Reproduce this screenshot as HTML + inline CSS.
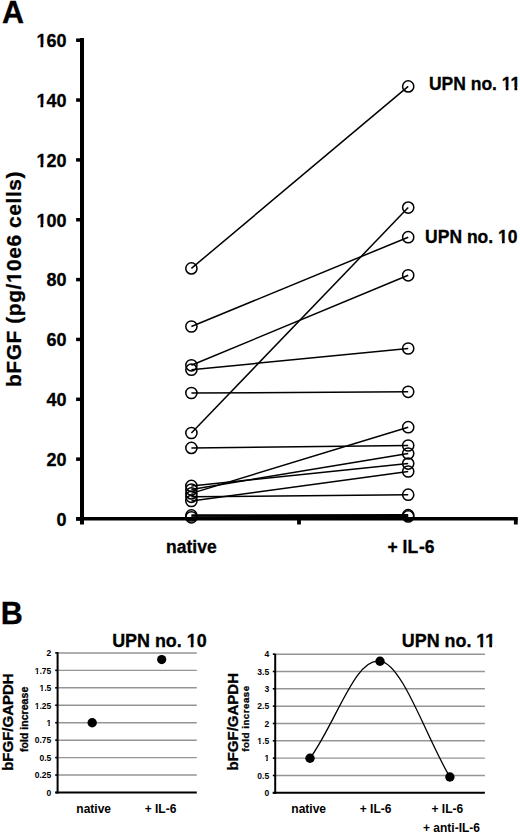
<!DOCTYPE html>
<html><head><meta charset="utf-8"><title>bFGF IL-6 figure</title>
<style>
html,body{margin:0;padding:0;background:#fff;}
body{width:520px;height:833px;overflow:hidden;font-family:"Liberation Sans",sans-serif;}
svg{display:block;}
</style></head>
<body>
<svg width="520" height="833" viewBox="0 0 520 833">
<rect width="520" height="833" fill="#fff"/>
<text x="2.0" y="22.6" font-family="Liberation Sans, sans-serif" font-weight="bold" stroke="#000" stroke-width="0.3" font-size="30.5">A</text>
<line x1="82.0" y1="38" x2="82.0" y2="524.6" stroke="#000" stroke-width="4.0"/>
<line x1="76.2" y1="518.8" x2="517.8" y2="518.8" stroke="#000" stroke-width="3.6"/>
<line x1="299.0" y1="518.8" x2="299.0" y2="524.5" stroke="#000" stroke-width="3.8"/>
<line x1="515.8" y1="518.8" x2="515.8" y2="524.5" stroke="#000" stroke-width="3.8"/>
<line x1="76.1" y1="519.00" x2="82.0" y2="519.00" stroke="#000" stroke-width="3.5"/>
<text x="66.5" y="525.80" font-family="Liberation Sans, sans-serif" font-weight="bold" stroke="#000" stroke-width="0.3" font-size="18" text-anchor="end">0</text>
<line x1="76.1" y1="459.15" x2="82.0" y2="459.15" stroke="#000" stroke-width="3.5"/>
<text x="66.5" y="465.95" font-family="Liberation Sans, sans-serif" font-weight="bold" stroke="#000" stroke-width="0.3" font-size="18" text-anchor="end">20</text>
<line x1="76.1" y1="399.30" x2="82.0" y2="399.30" stroke="#000" stroke-width="3.5"/>
<text x="66.5" y="406.10" font-family="Liberation Sans, sans-serif" font-weight="bold" stroke="#000" stroke-width="0.3" font-size="18" text-anchor="end">40</text>
<line x1="76.1" y1="339.45" x2="82.0" y2="339.45" stroke="#000" stroke-width="3.5"/>
<text x="66.5" y="346.25" font-family="Liberation Sans, sans-serif" font-weight="bold" stroke="#000" stroke-width="0.3" font-size="18" text-anchor="end">60</text>
<line x1="76.1" y1="279.60" x2="82.0" y2="279.60" stroke="#000" stroke-width="3.5"/>
<text x="66.5" y="286.40" font-family="Liberation Sans, sans-serif" font-weight="bold" stroke="#000" stroke-width="0.3" font-size="18" text-anchor="end">80</text>
<line x1="76.1" y1="219.75" x2="82.0" y2="219.75" stroke="#000" stroke-width="3.5"/>
<text x="66.5" y="226.55" font-family="Liberation Sans, sans-serif" font-weight="bold" stroke="#000" stroke-width="0.3" font-size="18" text-anchor="end">100</text><g fill="#fff"><rect x="36.69" y="223.91" width="3.82" height="4.24"/><rect x="43.27" y="223.91" width="3.59" height="4.24"/></g>
<line x1="76.1" y1="159.90" x2="82.0" y2="159.90" stroke="#000" stroke-width="3.5"/>
<text x="66.5" y="166.70" font-family="Liberation Sans, sans-serif" font-weight="bold" stroke="#000" stroke-width="0.3" font-size="18" text-anchor="end">120</text><g fill="#fff"><rect x="36.69" y="164.06" width="3.82" height="4.24"/><rect x="43.27" y="164.06" width="3.59" height="4.24"/></g>
<line x1="76.1" y1="100.05" x2="82.0" y2="100.05" stroke="#000" stroke-width="3.5"/>
<text x="66.5" y="106.85" font-family="Liberation Sans, sans-serif" font-weight="bold" stroke="#000" stroke-width="0.3" font-size="18" text-anchor="end">140</text><g fill="#fff"><rect x="36.69" y="104.21" width="3.82" height="4.24"/><rect x="43.27" y="104.21" width="3.59" height="4.24"/></g>
<line x1="76.1" y1="40.20" x2="82.0" y2="40.20" stroke="#000" stroke-width="3.5"/>
<text x="66.5" y="47.00" font-family="Liberation Sans, sans-serif" font-weight="bold" stroke="#000" stroke-width="0.3" font-size="18" text-anchor="end">160</text><g fill="#fff"><rect x="36.69" y="44.36" width="3.82" height="4.24"/><rect x="43.27" y="44.36" width="3.59" height="4.24"/></g>
<text transform="translate(20.9,279.25) rotate(-90)" x="0" y="0" font-family="Liberation Sans, sans-serif" font-weight="bold" stroke="#000" stroke-width="0.3" font-size="21" text-anchor="middle" textLength="215.5" lengthAdjust="spacing">bFGF (pg/10e6 cells)</text><g fill="#fff" transform="translate(20.9,279.25) rotate(-90)"><rect x="-3.43" y="-2.94" width="4.33" height="4.54"/><rect x="4.08" y="-2.94" width="4.06" height="4.54"/></g>
<text x="191.4" y="552.5" font-family="Liberation Sans, sans-serif" font-weight="bold" stroke="#000" stroke-width="0.3" font-size="17.5" text-anchor="middle">native</text>
<text x="411.0" y="552.5" font-family="Liberation Sans, sans-serif" font-weight="bold" stroke="#000" stroke-width="0.3" font-size="17.5" text-anchor="middle">+ IL<tspan dx="0.9">-6</tspan></text>
<text x="428.9" y="89.8" font-family="Liberation Sans, sans-serif" font-weight="bold" stroke="#000" stroke-width="0.3" font-size="17.5">UPN no. 11</text><g fill="#fff"><rect x="502.01" y="87.21" width="3.73" height="4.19"/><rect x="508.44" y="87.21" width="3.51" height="4.19"/><rect x="510.77" y="87.21" width="3.73" height="4.19"/><rect x="517.21" y="87.21" width="3.51" height="4.19"/></g>
<text x="425.1" y="243.3" font-family="Liberation Sans, sans-serif" font-weight="bold" stroke="#000" stroke-width="0.3" font-size="17.5">UPN no. 10</text><g fill="#fff"><rect x="498.21" y="240.71" width="3.73" height="4.19"/><rect x="504.64" y="240.71" width="3.51" height="4.19"/></g>
<line x1="191.4" y1="268.4" x2="408.2" y2="86.4" stroke="#000" stroke-width="1.5"/>
<line x1="191.4" y1="326.5" x2="408.2" y2="237.2" stroke="#000" stroke-width="1.5"/>
<line x1="191.4" y1="365.3" x2="408.2" y2="275.3" stroke="#000" stroke-width="1.5"/>
<line x1="191.4" y1="369.7" x2="408.2" y2="348.5" stroke="#000" stroke-width="1.5"/>
<line x1="191.4" y1="393.0" x2="408.2" y2="391.8" stroke="#000" stroke-width="1.5"/>
<line x1="191.4" y1="433.0" x2="408.2" y2="207.6" stroke="#000" stroke-width="1.5"/>
<line x1="191.4" y1="447.9" x2="408.2" y2="445.5" stroke="#000" stroke-width="1.5"/>
<line x1="191.4" y1="493.4" x2="408.2" y2="427.2" stroke="#000" stroke-width="1.5"/>
<line x1="191.4" y1="489.5" x2="408.2" y2="453.5" stroke="#000" stroke-width="1.5"/>
<line x1="191.4" y1="485.9" x2="408.2" y2="463.6" stroke="#000" stroke-width="1.5"/>
<line x1="191.4" y1="501.0" x2="408.2" y2="471.5" stroke="#000" stroke-width="1.5"/>
<line x1="191.4" y1="496.8" x2="408.2" y2="494.7" stroke="#000" stroke-width="1.5"/>
<line x1="191.4" y1="515.4" x2="408.2" y2="515.2" stroke="#000" stroke-width="2.2"/>
<line x1="191.4" y1="517.3" x2="408.2" y2="516.4" stroke="#000" stroke-width="2.2"/>
<circle cx="191.4" cy="268.4" r="5.6" fill="none" stroke="#000" stroke-width="1.5"/>
<circle cx="408.2" cy="86.4" r="5.6" fill="none" stroke="#000" stroke-width="1.5"/>
<circle cx="191.4" cy="326.5" r="5.6" fill="none" stroke="#000" stroke-width="1.5"/>
<circle cx="408.2" cy="237.2" r="5.6" fill="none" stroke="#000" stroke-width="1.5"/>
<circle cx="191.4" cy="365.3" r="5.6" fill="none" stroke="#000" stroke-width="1.5"/>
<circle cx="408.2" cy="275.3" r="5.6" fill="none" stroke="#000" stroke-width="1.5"/>
<circle cx="191.4" cy="369.7" r="5.6" fill="none" stroke="#000" stroke-width="1.5"/>
<circle cx="408.2" cy="348.5" r="5.6" fill="none" stroke="#000" stroke-width="1.5"/>
<circle cx="191.4" cy="393.0" r="5.6" fill="none" stroke="#000" stroke-width="1.5"/>
<circle cx="408.2" cy="391.8" r="5.6" fill="none" stroke="#000" stroke-width="1.5"/>
<circle cx="191.4" cy="433.0" r="5.6" fill="none" stroke="#000" stroke-width="1.5"/>
<circle cx="408.2" cy="207.6" r="5.6" fill="none" stroke="#000" stroke-width="1.5"/>
<circle cx="191.4" cy="447.9" r="5.6" fill="none" stroke="#000" stroke-width="1.5"/>
<circle cx="408.2" cy="445.5" r="5.6" fill="none" stroke="#000" stroke-width="1.5"/>
<circle cx="191.4" cy="493.4" r="5.6" fill="none" stroke="#000" stroke-width="1.5"/>
<circle cx="408.2" cy="427.2" r="5.6" fill="none" stroke="#000" stroke-width="1.5"/>
<circle cx="191.4" cy="489.5" r="5.6" fill="none" stroke="#000" stroke-width="1.5"/>
<circle cx="408.2" cy="453.5" r="5.6" fill="none" stroke="#000" stroke-width="1.5"/>
<circle cx="191.4" cy="485.9" r="5.6" fill="none" stroke="#000" stroke-width="1.5"/>
<circle cx="408.2" cy="463.6" r="5.6" fill="none" stroke="#000" stroke-width="1.5"/>
<circle cx="191.4" cy="501.0" r="5.6" fill="none" stroke="#000" stroke-width="1.5"/>
<circle cx="408.2" cy="471.5" r="5.6" fill="none" stroke="#000" stroke-width="1.5"/>
<circle cx="191.4" cy="496.8" r="5.6" fill="none" stroke="#000" stroke-width="1.5"/>
<circle cx="408.2" cy="494.7" r="5.6" fill="none" stroke="#000" stroke-width="1.5"/>
<circle cx="191.4" cy="515.4" r="5.6" fill="none" stroke="#000" stroke-width="1.5"/>
<circle cx="408.2" cy="515.2" r="5.6" fill="none" stroke="#000" stroke-width="1.5"/>
<circle cx="191.4" cy="517.3" r="5.6" fill="none" stroke="#000" stroke-width="1.5"/>
<circle cx="408.2" cy="516.4" r="5.6" fill="none" stroke="#000" stroke-width="1.5"/>
<text x="0.8" y="624" font-family="Liberation Sans, sans-serif" font-weight="bold" stroke="#000" stroke-width="0.3" font-size="30.5">B</text>
<line x1="57.6" y1="775.05" x2="196.8" y2="775.05" stroke="#959595" stroke-width="1.45"/>
<line x1="57.6" y1="757.60" x2="196.8" y2="757.60" stroke="#959595" stroke-width="1.45"/>
<line x1="57.6" y1="740.15" x2="196.8" y2="740.15" stroke="#959595" stroke-width="1.45"/>
<line x1="57.6" y1="722.70" x2="196.8" y2="722.70" stroke="#959595" stroke-width="1.45"/>
<line x1="57.6" y1="705.25" x2="196.8" y2="705.25" stroke="#959595" stroke-width="1.45"/>
<line x1="57.6" y1="687.80" x2="196.8" y2="687.80" stroke="#959595" stroke-width="1.45"/>
<line x1="57.6" y1="670.35" x2="196.8" y2="670.35" stroke="#959595" stroke-width="1.45"/>
<line x1="57.6" y1="652.90" x2="196.8" y2="652.90" stroke="#959595" stroke-width="1.45"/>
<line x1="55.2" y1="792.50" x2="57.6" y2="792.50" stroke="#000" stroke-width="1.6"/>
<text x="51.3" y="795.80" font-family="Liberation Sans, sans-serif" font-weight="bold" font-size="8.5" text-anchor="end">0</text>
<line x1="55.2" y1="775.05" x2="57.6" y2="775.05" stroke="#000" stroke-width="1.6"/>
<text x="51.3" y="778.35" font-family="Liberation Sans, sans-serif" font-weight="bold" font-size="8.5" text-anchor="end">0.25</text>
<line x1="55.2" y1="757.60" x2="57.6" y2="757.60" stroke="#000" stroke-width="1.6"/>
<text x="51.3" y="760.90" font-family="Liberation Sans, sans-serif" font-weight="bold" font-size="8.5" text-anchor="end">0.5</text>
<line x1="55.2" y1="740.15" x2="57.6" y2="740.15" stroke="#000" stroke-width="1.6"/>
<text x="51.3" y="743.45" font-family="Liberation Sans, sans-serif" font-weight="bold" font-size="8.5" text-anchor="end">0.75</text>
<line x1="55.2" y1="722.70" x2="57.6" y2="722.70" stroke="#000" stroke-width="1.6"/>
<text x="51.3" y="726.00" font-family="Liberation Sans, sans-serif" font-weight="bold" font-size="8.5" text-anchor="end">1</text><g fill="#fff"><rect x="46.20" y="724.33" width="2.20" height="3.27"/><rect x="49.87" y="724.33" width="2.09" height="3.27"/></g>
<line x1="55.2" y1="705.25" x2="57.6" y2="705.25" stroke="#000" stroke-width="1.6"/>
<text x="51.3" y="708.55" font-family="Liberation Sans, sans-serif" font-weight="bold" font-size="8.5" text-anchor="end">1.25</text><g fill="#fff"><rect x="34.39" y="706.88" width="2.20" height="3.27"/><rect x="38.05" y="706.88" width="2.09" height="3.27"/></g>
<line x1="55.2" y1="687.80" x2="57.6" y2="687.80" stroke="#000" stroke-width="1.6"/>
<text x="51.3" y="691.10" font-family="Liberation Sans, sans-serif" font-weight="bold" font-size="8.5" text-anchor="end">1.5</text><g fill="#fff"><rect x="39.11" y="689.43" width="2.20" height="3.27"/><rect x="42.77" y="689.43" width="2.09" height="3.27"/></g>
<line x1="55.2" y1="670.35" x2="57.6" y2="670.35" stroke="#000" stroke-width="1.6"/>
<text x="51.3" y="673.65" font-family="Liberation Sans, sans-serif" font-weight="bold" font-size="8.5" text-anchor="end">1.75</text><g fill="#fff"><rect x="34.39" y="671.98" width="2.20" height="3.27"/><rect x="38.05" y="671.98" width="2.09" height="3.27"/></g>
<line x1="55.2" y1="652.90" x2="57.6" y2="652.90" stroke="#000" stroke-width="1.6"/>
<text x="51.3" y="656.20" font-family="Liberation Sans, sans-serif" font-weight="bold" font-size="8.5" text-anchor="end">2</text>
<line x1="57.6" y1="652.2" x2="57.6" y2="793.5" stroke="#000" stroke-width="2"/>
<line x1="55.4" y1="792.5" x2="196.8" y2="792.5" stroke="#000" stroke-width="2"/>
<circle cx="92.2" cy="722.7" r="4.7" fill="#000"/>
<circle cx="161.7" cy="659.6" r="4.6" fill="#000"/>
<text x="112.2" y="646.5" font-family="Liberation Sans, sans-serif" font-weight="bold" stroke="#000" stroke-width="0.3" font-size="17.9">UPN no. 10</text><g fill="#fff"><rect x="186.96" y="643.87" width="3.80" height="4.23"/><rect x="193.52" y="643.87" width="3.57" height="4.23"/></g>
<text x="93.7" y="813.3" font-family="Liberation Sans, sans-serif" font-weight="bold" font-size="12" text-anchor="middle">native</text>
<text x="160.5" y="813.3" font-family="Liberation Sans, sans-serif" font-weight="bold" font-size="12" text-anchor="middle">+ IL-6</text>
<text transform="translate(12.8,722.1) rotate(-90)" font-family="Liberation Sans, sans-serif" font-weight="bold" stroke="#000" stroke-width="0.3" font-size="15" text-anchor="middle">bFGF/GAPDH</text>
<text transform="translate(27.6,719.4) rotate(-90)" font-family="Liberation Sans, sans-serif" font-weight="bold" stroke="#000" stroke-width="0.3" font-size="10.6" text-anchor="middle">fold increase</text>
<line x1="275.2" y1="775.47" x2="484.9" y2="775.47" stroke="#959595" stroke-width="1.45"/>
<line x1="275.2" y1="758.14" x2="484.9" y2="758.14" stroke="#959595" stroke-width="1.45"/>
<line x1="275.2" y1="740.81" x2="484.9" y2="740.81" stroke="#959595" stroke-width="1.45"/>
<line x1="275.2" y1="723.48" x2="484.9" y2="723.48" stroke="#959595" stroke-width="1.45"/>
<line x1="275.2" y1="706.15" x2="484.9" y2="706.15" stroke="#959595" stroke-width="1.45"/>
<line x1="275.2" y1="688.82" x2="484.9" y2="688.82" stroke="#959595" stroke-width="1.45"/>
<line x1="275.2" y1="671.49" x2="484.9" y2="671.49" stroke="#959595" stroke-width="1.45"/>
<line x1="275.2" y1="654.16" x2="484.9" y2="654.16" stroke="#959595" stroke-width="1.45"/>
<line x1="272.8" y1="792.80" x2="275.2" y2="792.80" stroke="#000" stroke-width="1.6"/>
<text x="269.2" y="796.10" font-family="Liberation Sans, sans-serif" font-weight="bold" font-size="8.5" text-anchor="end">0</text>
<line x1="272.8" y1="775.47" x2="275.2" y2="775.47" stroke="#000" stroke-width="1.6"/>
<text x="269.2" y="778.77" font-family="Liberation Sans, sans-serif" font-weight="bold" font-size="8.5" text-anchor="end">0.5</text>
<line x1="272.8" y1="758.14" x2="275.2" y2="758.14" stroke="#000" stroke-width="1.6"/>
<text x="269.2" y="761.44" font-family="Liberation Sans, sans-serif" font-weight="bold" font-size="8.5" text-anchor="end">1</text><g fill="#fff"><rect x="264.10" y="759.77" width="2.20" height="3.27"/><rect x="267.77" y="759.77" width="2.09" height="3.27"/></g>
<line x1="272.8" y1="740.81" x2="275.2" y2="740.81" stroke="#000" stroke-width="1.6"/>
<text x="269.2" y="744.11" font-family="Liberation Sans, sans-serif" font-weight="bold" font-size="8.5" text-anchor="end">1.5</text><g fill="#fff"><rect x="257.01" y="742.44" width="2.20" height="3.27"/><rect x="260.67" y="742.44" width="2.09" height="3.27"/></g>
<line x1="272.8" y1="723.48" x2="275.2" y2="723.48" stroke="#000" stroke-width="1.6"/>
<text x="269.2" y="726.78" font-family="Liberation Sans, sans-serif" font-weight="bold" font-size="8.5" text-anchor="end">2</text>
<line x1="272.8" y1="706.15" x2="275.2" y2="706.15" stroke="#000" stroke-width="1.6"/>
<text x="269.2" y="709.45" font-family="Liberation Sans, sans-serif" font-weight="bold" font-size="8.5" text-anchor="end">2.5</text>
<line x1="272.8" y1="688.82" x2="275.2" y2="688.82" stroke="#000" stroke-width="1.6"/>
<text x="269.2" y="692.12" font-family="Liberation Sans, sans-serif" font-weight="bold" font-size="8.5" text-anchor="end">3</text>
<line x1="272.8" y1="671.49" x2="275.2" y2="671.49" stroke="#000" stroke-width="1.6"/>
<text x="269.2" y="674.79" font-family="Liberation Sans, sans-serif" font-weight="bold" font-size="8.5" text-anchor="end">3.5</text>
<line x1="272.8" y1="654.16" x2="275.2" y2="654.16" stroke="#000" stroke-width="1.6"/>
<text x="269.2" y="657.46" font-family="Liberation Sans, sans-serif" font-weight="bold" font-size="8.5" text-anchor="end">4</text>
<line x1="275.2" y1="653.8" x2="275.2" y2="793.8" stroke="#000" stroke-width="2"/>
<line x1="272.8" y1="792.8" x2="484.9" y2="792.8" stroke="#000" stroke-width="2"/>
<path d="M310.0,758.3 C336.25,721.92 355.77,656.29 380.0,661.3 C402.02,662.42 427.04,739.17 449.9,777.0" fill="none" stroke="#000" stroke-width="1.3"/>
<circle cx="310.0" cy="758.3" r="4.7" fill="#000"/>
<circle cx="380.0" cy="661.3" r="4.7" fill="#000"/>
<circle cx="449.9" cy="777.0" r="4.7" fill="#000"/>
<text x="401.8" y="647.3" font-family="Liberation Sans, sans-serif" font-weight="bold" stroke="#000" stroke-width="0.3" font-size="17.9">UPN no. 11</text><g fill="#fff"><rect x="476.56" y="644.67" width="3.80" height="4.23"/><rect x="483.12" y="644.67" width="3.57" height="4.23"/><rect x="485.53" y="644.67" width="3.80" height="4.23"/><rect x="492.08" y="644.67" width="3.57" height="4.23"/></g>
<text x="308.7" y="813.2" font-family="Liberation Sans, sans-serif" font-weight="bold" font-size="12" text-anchor="middle">native</text>
<text x="375.6" y="813.3" font-family="Liberation Sans, sans-serif" font-weight="bold" font-size="12" text-anchor="middle">+ IL-6</text>
<text x="447.3" y="813.3" font-family="Liberation Sans, sans-serif" font-weight="bold" font-size="12" text-anchor="middle">+ IL-6</text>
<text x="451.5" y="831.9" font-family="Liberation Sans, sans-serif" font-weight="bold" font-size="12" text-anchor="middle">+ anti-IL-6</text>
<text transform="translate(238.1,721.75) rotate(-90)" font-family="Liberation Sans, sans-serif" font-weight="bold" stroke="#000" stroke-width="0.3" font-size="15" text-anchor="middle">bFGF/GAPDH</text>
<text transform="translate(249.4,718.85) rotate(-90)" font-family="Liberation Sans, sans-serif" font-weight="bold" stroke="#000" stroke-width="0.3" font-size="9.7" text-anchor="middle" textLength="66" lengthAdjust="spacing">fold increase</text>
</svg>
</body></html>
